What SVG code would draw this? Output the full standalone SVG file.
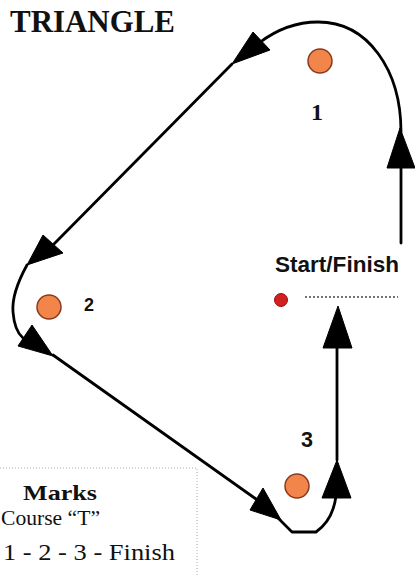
<svg xmlns="http://www.w3.org/2000/svg" width="415" height="577" viewBox="0 0 415 577">
<style>
.ln{fill:none;stroke:#000;stroke-width:2.8;stroke-linecap:round;stroke-linejoin:round}
.ah{fill:#000;stroke:#000;stroke-width:1;stroke-linejoin:round}
.mk{fill:#F2854A;stroke:#8a3a1e;stroke-width:1.5}
.serif{font-family:"Liberation Serif","Times New Roman",serif;fill:#111}
.sans{font-family:"Liberation Sans",Arial,sans-serif;font-weight:bold;fill:#111}
</style>
<rect width="415" height="577" fill="#fff"/>
<text class="serif" x="10" y="32" font-size="32" font-weight="bold" textLength="165" lengthAdjust="spacingAndGlyphs">TRIANGLE</text>
<g id="connectors">
<path class="ln" d="M401,243 L401,165"/>
<path class="ln" d="M401,132 C401,70 368,22 318,22 C296,22 276,30 259,43"/>
<path class="ln" d="M232,64 L53,245"/>
<path class="ln" d="M27,265 C16,285 12,300 13,312 C14,325 17,333 23,338"/>
<path class="ln" d="M53,355 L256,499"/>
<path class="ln" d="M278,518 L292,532 L316,532 Q333,520 336,496"/>
<path class="ln" d="M337,460 L337,345"/>
<path class="ah" d="M400,128 L387,168 L415,168 Z"/>
<path class="ah" d="M232,64 L253,32 L270,50 Z"/>
<path class="ah" d="M27,265 L43,235 L63,253 Z"/>
<path class="ah" d="M53,356 L32,325 L18,346 Z"/>
<path class="ah" d="M281,520 L263,488 L250,510 Z"/>
<path class="ah" d="M337,460 L322,498 L351,498 Z"/>
<path class="ah" d="M338,306 L323,348 L352,348 Z"/>
</g>
<g id="mark1">
<circle class="mk" cx="320" cy="61" r="12"/>
<text class="serif" x="317" y="120" font-size="24" font-weight="bold" text-anchor="middle">1</text>
</g>
<g id="mark2">
<circle class="mk" cx="49" cy="307" r="12"/>
<text class="sans" x="84" y="311" font-size="18">2</text>
</g>
<g id="mark3">
<circle class="mk" cx="297" cy="486" r="12"/>
<text class="sans" x="301" y="447" font-size="22" textLength="12" lengthAdjust="spacingAndGlyphs">3</text>
</g>
<g id="startfinish">
<text class="sans" x="275" y="272" font-size="22" textLength="124" lengthAdjust="spacingAndGlyphs">Start/Finish</text>
<circle cx="281" cy="300" r="6.5" fill="#D21F1F" stroke="#9a1010" stroke-width="1"/>
<line x1="305" y1="297" x2="398" y2="297" stroke="#444" stroke-width="1.5" stroke-dasharray="2,2"/>
</g>
<g id="legend">
<path d="M0,468 L197,468 L197,577" fill="none" stroke="#aaa" stroke-width="1" stroke-dasharray="1,2"/>
<text class="serif" x="23" y="500" font-size="22" font-weight="bold" textLength="74" lengthAdjust="spacingAndGlyphs">Marks</text>
<text class="serif" x="1" y="525" font-size="20" textLength="99" lengthAdjust="spacingAndGlyphs">Course “T”</text>
<text class="serif" x="3" y="560" font-size="24" textLength="172" lengthAdjust="spacingAndGlyphs">1 - 2 - 3 - Finish</text>
</g>
</svg>
